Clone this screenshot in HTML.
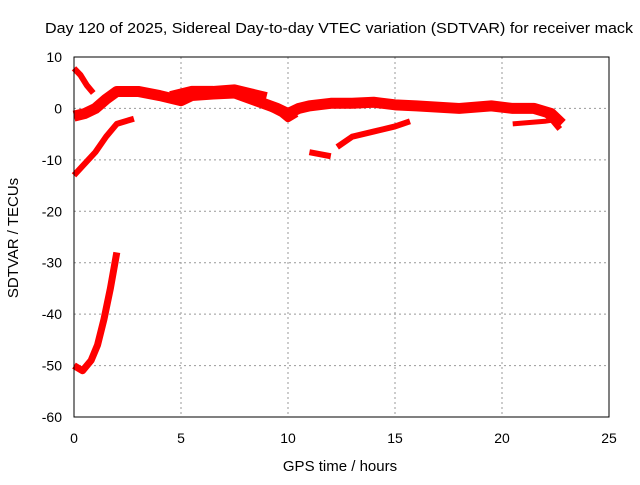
<!DOCTYPE html>
<html><head><meta charset="utf-8"><style>
body{margin:0;background:#fff;font-family:"Liberation Sans",sans-serif}
svg text{font-family:"Liberation Sans",sans-serif;font-size:14px;fill:#000}
</style></head><body>
<svg id="chart" width="640" height="480" viewBox="0 0 640 480" xmlns="http://www.w3.org/2000/svg">
<text x="45" y="33" textLength="588" lengthAdjust="spacingAndGlyphs" style="font-size:15px">Day 120 of 2025, Sidereal Day-to-day VTEC variation (SDTVAR) for receiver mack</text>
<text x="340" y="471" text-anchor="middle" style="font-size:15px">GPS time / hours</text>
<text transform="translate(18,238) rotate(-90)" text-anchor="middle" style="font-size:15px">SDTVAR / TECUs</text>
<g id="grid"></g>
<g id="series"></g>
<rect x="74" y="57" width="535" height="360" fill="none" stroke="#000" stroke-width="1"/>
</svg>
<script>
const xTicks=[0,5,10,15,20,25];
const yTicks=[10,0,-10,-20,-30,-40,-50,-60];
const seriesA=[[0,7.8],[0.3,6.5],[0.6,4.5],[0.9,3]];
const seriesB=[[0,-1.5],[0.5,-1],[1,0],[1.5,1.8],[2,3.3],[3,3.3],[4,2.5],[5,1.5],[5.5,2.5],[6.5,2.8],[7.5,3],[8.5,1.5],[9.5,0],[10,-1],[10.5,0],[11,0.5],[12,1],[13,1],[14,1.2],[15,0.7],[16,0.5],[18,0],[19.5,0.5],[20.5,0],[21.5,0],[22.3,-1],[22.8,-3]];
const seriesB2=[[4.5,2.5],[5.5,3.5],[6.5,3.5],[7.5,3.8],[8.3,3],[9,2.3]];
const seriesB3=[[9,0.5],[9.7,-1],[10,-2],[10.4,-1]];
const seriesC=[[0,-13],[1,-8.5],[1.5,-5.5],[2,-3],[2.8,-2]];
const seriesD=[[11,-8.5],[12,-9.3]];
const seriesE=[[12.3,-7.5],[13,-5.5],[14,-4.5],[15,-3.5],[15.7,-2.5]];
const seriesF=[[0,-50],[0.4,-51],[0.8,-49],[1.1,-46],[1.4,-41],[1.7,-35],[2,-28]];
const seriesG=[[20.5,-3],[22,-2.5],[22.8,-2]];
const seriesH=[[21.7,0],[22.3,-2],[22.7,-4]];
const X=v=>74+v*(535/25), Y=v=>57+(10-v)*(360/70);
const ns="http://www.w3.org/2000/svg";
const g=document.getElementById('grid'),s=document.getElementById('series');
xTicks.forEach(t=>{
 if(t>0&&t<25){const l=document.createElementNS(ns,'line');
 
 
 l.setAttribute('x1',X(t));l.setAttribute('x2',X(t));l.setAttribute('y1',57);l.setAttribute('y2',417);
 l.setAttribute('stroke','#999');l.setAttribute('stroke-dasharray','2,3');g.appendChild(l);}
 const tx=document.createElementNS(ns,'text');
 
 
 tx.setAttribute('x',X(t));tx.setAttribute('y',443);tx.setAttribute('text-anchor','middle');tx.textContent=t;g.appendChild(tx);
});
yTicks.forEach(t=>{
 if(t<10&&t>-60){const l=document.createElementNS(ns,'line');
 
 
 l.setAttribute('x1',74);l.setAttribute('x2',609);l.setAttribute('y1',Y(t));l.setAttribute('y2',Y(t));
 l.setAttribute('stroke','#999');l.setAttribute('stroke-dasharray','2,3');g.appendChild(l);}
 const tx=document.createElementNS(ns,'text');
 
 
 tx.setAttribute('x',62);tx.setAttribute('y',Y(t)+5);tx.setAttribute('text-anchor','end');tx.textContent=t;g.appendChild(tx);
});
[[seriesA,6],[seriesB,11],[seriesB2,9],[seriesB3,7],[seriesC,6],[seriesD,6],[seriesE,6],[seriesF,7],[seriesG,5],[seriesH,6]].forEach(([d,w])=>{
 const p=document.createElementNS(ns,'polyline');
 
 
 p.setAttribute('points',d.map(q=>X(q[0])+','+Y(q[1])).join(' '));
 p.setAttribute('fill','none');p.setAttribute('stroke','#f00');p.setAttribute('stroke-width',w);
 p.setAttribute('stroke-linejoin','round');s.appendChild(p);
});
</script>
</body></html>
